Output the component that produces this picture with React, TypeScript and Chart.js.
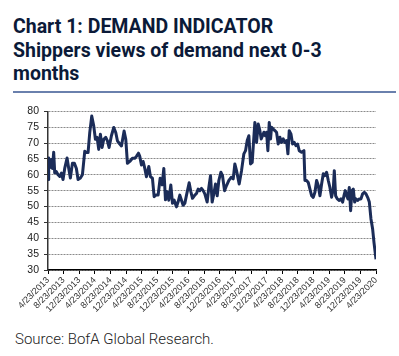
import React, { useEffect, useRef } from "react";
import { Chart, registerables } from "chart.js";

Chart.register(...registerables);

const TITLE_LINES = ["Chart 1: DEMAND INDICATOR", "Shippers views of demand next 0-3", "months"];
const SOURCE = "Source: BofA Global Research.";

// months elapsed since 4/23/2013
const monthsSinceStart = [
  0.0, 0.18, 0.44, 0.86, 1.12, 1.46, 1.72, 2.14, 2.57, 3.0, 3.43, 3.85, 4.28, 4.88, 5.31, 5.73, 6.25, 6.76, 7.27, 7.7,
  8.3, 8.81, 9.41, 9.83, 10.26, 10.69, 11.2, 11.71, 12.14, 12.57, 12.99, 13.42, 13.85, 14.28, 14.79, 15.22, 15.64, 16.24,
  16.84, 17.35, 17.78, 18.38, 18.81, 19.49, 19.92, 20.34, 20.94, 21.62, 22.22, 22.65, 23.16, 23.5, 23.93, 24.36, 24.79,
  25.21, 25.81, 26.24, 26.75, 27.18, 27.61, 28.2, 28.72, 29.23, 29.66, 30.08, 30.51, 30.94, 31.45, 31.88, 32.31, 32.9,
  33.33, 33.76, 34.18, 34.61, 35.04, 35.47, 36.15, 36.58, 37.0, 37.6, 38.03, 38.46, 38.88, 39.31, 39.74, 40.16, 40.76,
  41.19, 41.62, 42.04, 42.47, 42.9, 43.33, 43.75, 44.27, 44.69, 45.21, 45.72, 46.32, 46.91, 47.43, 47.85, 48.28, 48.96,
  49.56, 50.16, 50.59, 51.02, 51.44, 51.87, 52.3, 52.55, 52.98, 53.41, 53.84, 54.26, 54.6, 54.95, 55.29, 55.63, 55.97,
  56.31, 56.66, 57.0, 57.25, 57.68, 58.11, 58.53, 58.96, 59.39, 59.82, 60.24, 60.67, 61.1, 61.44, 61.78, 62.21, 62.64,
  63.06, 63.49, 63.92, 64.34, 64.94, 65.54, 65.8, 66.22, 66.65, 67.08, 67.51, 67.93, 68.36, 68.79, 69.21, 69.64, 70.07,
  70.5, 70.92, 71.35, 71.78, 72.2, 72.63, 73.06, 73.32, 73.66, 74.08, 74.6, 75.02, 75.45, 75.79, 76.13, 76.48, 76.82,
  77.16, 77.5, 77.84, 78.19, 78.53, 78.87, 79.3, 79.72, 80.15, 80.58, 81.01, 81.43, 81.86, 82.29, 82.71, 83.14, 83.48,
  84.0,
];

const demandIndicator = [
  58.5, 65.3, 62.2, 64.8, 62.0, 67.1, 60.6, 61.0, 60.0, 59.5, 60.5, 58.5, 62.0, 65.3, 62.0, 59.0, 63.6, 63.6, 62.0, 58.5,
  59.0, 60.0, 67.4, 67.0, 67.0, 73.3, 78.5, 75.4, 71.2, 71.8, 68.0, 72.8, 68.6, 71.2, 71.8, 70.7, 68.6, 72.3,
  74.9, 73.3, 70.7, 69.7, 69.1, 73.8, 71.2, 63.6, 64.2, 65.2, 65.2, 65.8, 66.8, 65.8, 63.1, 64.2, 62.0,
  59.4, 62.6, 59.4, 58.9, 53.1, 53.6, 53.6, 58.9, 56.8, 62.0, 52.1, 54.7, 52.0, 56.8, 51.0, 52.0, 49.9,
  51.5, 53.6, 52.0, 50.4, 51.0, 53.6, 57.5, 54.7, 52.6, 53.6, 54.1, 55.5, 55.0, 55.7, 55.0, 54.0, 51.4,
  56.0, 59.7, 51.4, 54.0, 57.1, 53.4, 58.2, 60.8, 59.7, 55.0, 56.6, 58.2, 59.2, 58.7, 63.4, 61.3, 57.1,
  61.3, 66.6, 67.6, 70.8, 72.3, 63.4, 63.9, 68.7, 76.5, 70.2, 76.0, 73.9, 71.3, 72.3, 73.4, 72.3, 73.4,
  67.6, 76.5, 71.3, 75.0, 74.4, 73.9, 73.4, 69.7, 71.8, 70.2, 71.3, 70.2, 70.8, 66.6, 73.9, 72.9, 69.7,
  70.2, 69.2, 69.7, 67.6, 67.1, 67.6, 58.2, 58.2, 57.6, 55.5, 53.4, 52.9, 54.5, 58.2, 56.6, 53.4, 57.1,
  60.3, 59.7, 60.8, 58.2, 56.0, 52.9, 55.5, 61.3, 53.4, 52.4, 51.9, 52.4, 51.4, 53.4, 55.0, 53.4, 52.4,
  56.0, 48.7, 55.0, 55.5, 51.4, 52.4, 51.9, 52.4, 52.4, 54.0, 54.5, 54.0, 52.9, 51.4, 46.1, 42.9, 38.7,
  33.4,
];

const Y_MIN = 30;
const Y_MAX = 80;
const Y_STEP = 5;
const X_TICK_MONTHS = 4;
const START_YEAR = 2013;
const START_MONTH = 4; // April
const TICK_DAY = 23;

function tickLabel(v: number): string {
  const idx = START_MONTH - 1 + Math.round(v);
  const m = (idx % 12) + 1;
  const y = START_YEAR + Math.floor(idx / 12);
  return `${m}/${TICK_DAY}/${y}`;
}

export default function App() {
  const canvasRef = useRef<HTMLCanvasElement | null>(null);

  useEffect(() => {
    const ctx = canvasRef.current;
    if (!ctx) return;
    const chart = new Chart(ctx, {
      type: "line",
      data: {
        datasets: [
          {
            data: monthsSinceStart.map((x, i) => ({ x, y: demandIndicator[i] })),
            borderColor: "#1b2c58",
            borderWidth: 3,
            pointRadius: 0,
            tension: 0,
            borderJoinStyle: "round",
          },
        ],
      },
      options: {
        animation: false,
        responsive: false,
        maintainAspectRatio: false,
        layout: { padding: { top: 10, left: 0, right: 23, bottom: 0 } },
        plugins: { legend: { display: false }, tooltip: { enabled: false } },
        scales: {
          x: {
            type: "linear",
            min: 0,
            max: 84,
            afterFit: (s: any) => {
              s.height = 60;
              s.paddingLeft = 0;
              s.paddingRight = 0;
            },
            ticks: {
              stepSize: X_TICK_MONTHS,
              autoSkip: false,
              minRotation: 45,
              maxRotation: 45,
              padding: 1,
              color: "#333",
              font: { family: "'Liberation Sans', Arial, sans-serif", size: 9 },
              callback: (v: any) => tickLabel(Number(v)),
            },
            grid: {
              drawOnChartArea: false,
              drawTicks: true,
              tickLength: 4,
              color: "#000",
            },
            border: { display: true, color: "#000", width: 1.5 },
          },
          y: {
            min: Y_MIN,
            max: Y_MAX,
            afterFit: (s: any) => {
              s.width = 48;
            },
            ticks: {
              stepSize: Y_STEP,
              autoSkip: false,
              padding: 5,
              color: "#222",
              font: { family: "'Liberation Sans', Arial, sans-serif", size: 10.5 },
            },
            grid: {
              display: true,
              drawOnChartArea: true,
              drawTicks: true,
              color: "#8a8a8a",
              lineWidth: 1,
              tickLength: 4,
              tickColor: "#333",
              tickWidth: 1,
              tickBorderDash: [],
            },
            border: { display: true, color: "#333", width: 1.5, dash: [2, 1] },
          },
        },
      },
    });
    return () => chart.destroy();
  }, []);

  return (
    <div style={{ position: "absolute", left: 0, top: 0, width: 399, height: 356, background: "#fff", overflow: "hidden" }}>
      <div
        style={{
          position: "absolute",
          left: 13,
          top: 15,
          fontFamily: "Roboto, 'Noto Sans', sans-serif",
          fontWeight: 700,
          fontSize: 19.5,
          lineHeight: "23.5px",
          color: "#0b1a38",
          whiteSpace: "nowrap",
        }}
      >
        {TITLE_LINES.map((t) => (
          <div key={t}>{t}</div>
        ))}
      </div>
      <div style={{ position: "absolute", left: 13, top: 91, width: 383, height: 2, background: "#6a80ad" }} />
      <canvas ref={canvasRef} width={399} height={230} style={{ position: "absolute", left: 0, top: 100, width: 399, height: 230 }} />
      <div
        style={{
          position: "absolute",
          left: 15,
          top: 330,
          fontFamily: "Roboto, sans-serif",
          fontWeight: 300,
          fontSize: 15,
          color: "#222",
          whiteSpace: "nowrap",
        }}
      >
        {SOURCE}
      </div>
    </div>
  );
}
